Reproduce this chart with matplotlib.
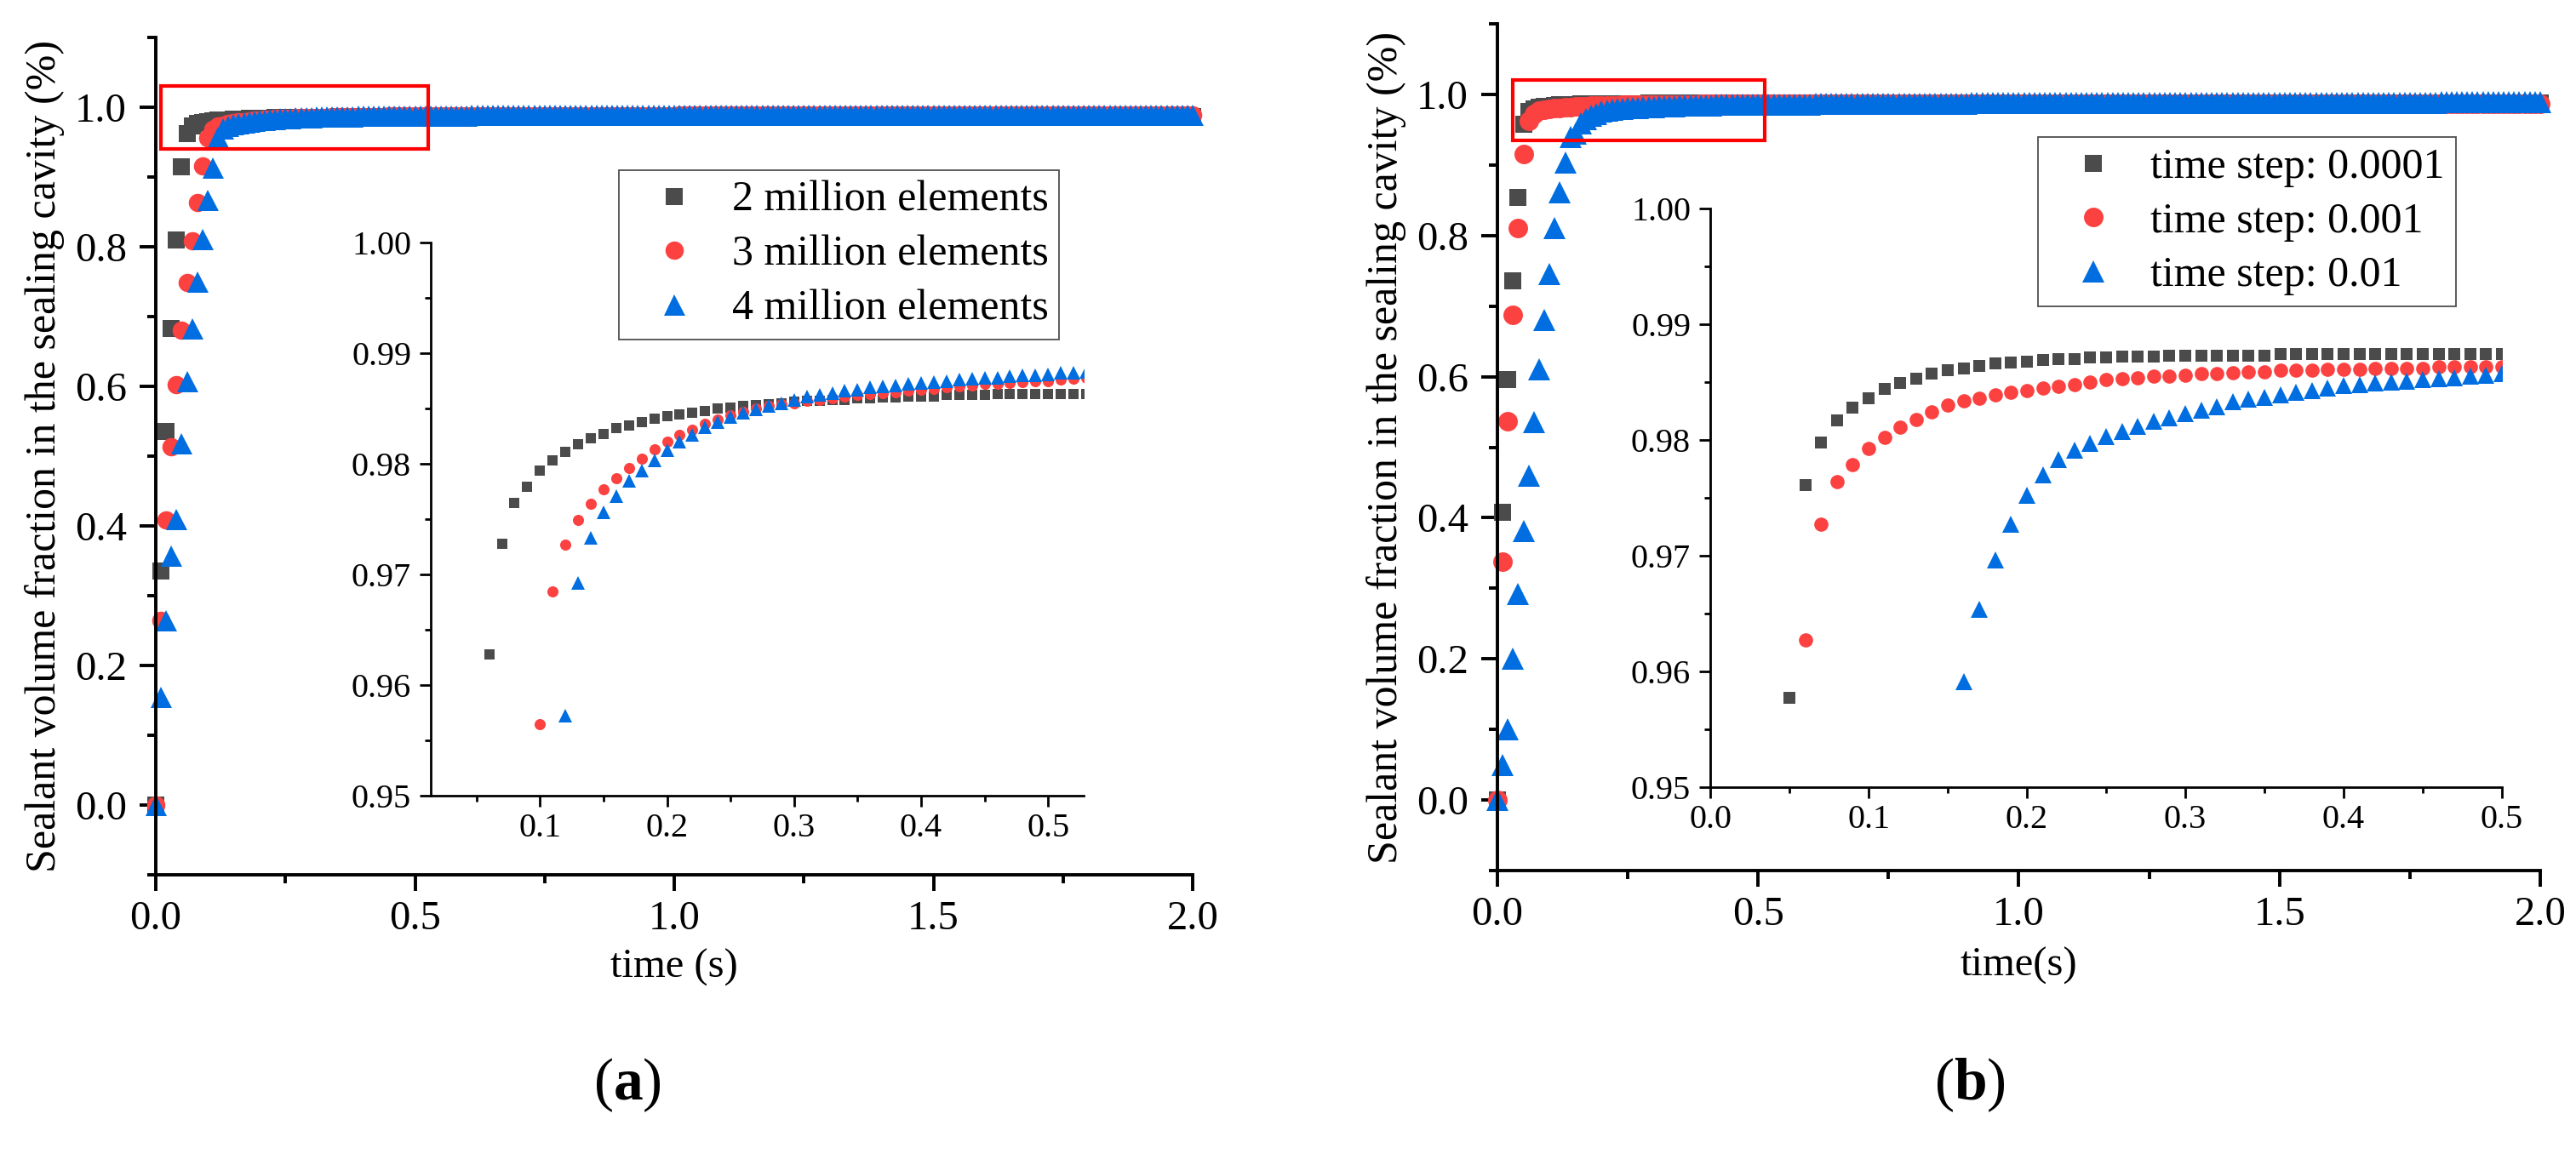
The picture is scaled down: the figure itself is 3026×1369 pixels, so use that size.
import numpy as np
import matplotlib
matplotlib.use("Agg")
import matplotlib.pyplot as plt
from matplotlib.lines import Line2D
from matplotlib.patches import Rectangle
from matplotlib.ticker import FormatStrFormatter

plt.rcParams['font.family'] = ['Liberation Serif', 'DejaVu Serif']
plt.rcParams['mathtext.fontset'] = 'custom'
plt.rcParams['mathtext.rm'] = 'Liberation Serif'
plt.rcParams['mathtext.bf'] = 'Liberation Serif:bold'

GRAY = '#4b4b4b'
RED = '#fc4141'
BLUE = '#006ee0'

# time grid shared by every series (s)
time = np.round(np.arange(0, 201) * 0.01, 2)

# ---- (a) mesh study ----
labels_a = ['2 million elements', '3 million elements', '4 million elements']
# t = 0.00 .. 0.52
mesh2 = [0.0, 0.335, 0.535, 0.683, 0.810, 0.915,
         0.9628, 0.9728, 0.9765, 0.9779, 0.9794, 0.9803, 0.9811, 0.9818, 0.9823, 0.9827,
         0.9832, 0.9835, 0.9838, 0.9841, 0.9843, 0.9845, 0.9846, 0.9848, 0.9850, 0.9851,
         0.9852, 0.9853, 0.9854, 0.9855, 0.9856, 0.9857, 0.9857, 0.9858, 0.9858, 0.9859,
         0.9859, 0.9860, 0.9860, 0.9861, 0.9861, 0.9861, 0.9862, 0.9862, 0.9862, 0.9862,
         0.9863, 0.9863, 0.9863, 0.9863, 0.9863, 0.9863, 0.9863]
mesh3 = [0.0, 0.265, 0.408, 0.513, 0.602, 0.680, 0.749, 0.809, 0.864, 0.916,
         0.9565, 0.9685, 0.9727, 0.9749, 0.9764, 0.9777, 0.9787, 0.9796, 0.9805, 0.9813,
         0.9820, 0.9826, 0.9831, 0.9836, 0.9840, 0.9844, 0.9847, 0.9850, 0.9852, 0.9854,
         0.9855, 0.9857, 0.9858, 0.9859, 0.9861, 0.9862, 0.9863, 0.9864, 0.9865, 0.9866,
         0.9867, 0.9868, 0.9869, 0.9870, 0.9871, 0.9872, 0.9872, 0.9873, 0.9874, 0.9875,
         0.9875, 0.9876, 0.9877]
mesh4 = [0.0, 0.155, 0.265, 0.357, 0.410, 0.518, 0.607, 0.683, 0.750, 0.811, 0.867, 0.914,
         0.9572, 0.9692, 0.9733, 0.9756, 0.9771, 0.9785, 0.9794, 0.9803, 0.9812, 0.9820,
         0.9826, 0.9833, 0.9838, 0.9842, 0.9846, 0.9849, 0.9852, 0.9855, 0.9858, 0.9861,
         0.9862, 0.9864, 0.9866, 0.9867, 0.9869, 0.9870, 0.9871, 0.9872, 0.9873, 0.9874,
         0.9875, 0.9876, 0.9877, 0.9878, 0.9878, 0.9879, 0.9880, 0.9880, 0.9881, 0.9882,
         0.9882]
# plateau t = 0.53 .. 2.00, one value per 0.1 s block
tail_counts_a = [8] + [10] * 14
mesh2_tail = [0.9863, 0.9864, 0.9864, 0.9864, 0.9865, 0.9865, 0.9865, 0.9865,
              0.9865, 0.9866, 0.9866, 0.9866, 0.9866, 0.9866, 0.9866]
mesh3_tail = [0.9878, 0.9880, 0.9882, 0.9883, 0.9884, 0.9885, 0.9885, 0.9886,
              0.9886, 0.9886, 0.9887, 0.9887, 0.9887, 0.9887, 0.9887]
mesh4_tail = [0.9883, 0.9885, 0.9887, 0.9888, 0.9889, 0.9890, 0.9890, 0.9891,
              0.9891, 0.9891, 0.9892, 0.9892, 0.9892, 0.9892, 0.9892]

# ---- (b) time step study ----
labels_b = ['time step: 0.0001', 'time step: 0.001', 'time step: 0.01']
# t = 0.00 .. 0.50
step4 = [0.0, 0.408, 0.596, 0.736, 0.854,
         0.9577, 0.9761, 0.9798, 0.9817, 0.9828, 0.9836, 0.9844, 0.9849, 0.9853, 0.9857,
         0.9860, 0.9862, 0.9864, 0.9866, 0.9867, 0.9868, 0.9869, 0.9870, 0.9870, 0.9871,
         0.9871, 0.9872, 0.9872, 0.9872, 0.9873, 0.9873, 0.9873, 0.9873, 0.9873, 0.9873,
         0.9873, 0.9874, 0.9874, 0.9874, 0.9874, 0.9874, 0.9874, 0.9874, 0.9874, 0.9874,
         0.9874, 0.9874, 0.9874, 0.9874, 0.9874, 0.9874]
step3 = [0.0, 0.338, 0.537, 0.688, 0.811, 0.915,
         0.9627, 0.9727, 0.9764, 0.9779, 0.9793, 0.9802, 0.9811, 0.9818, 0.9824, 0.9830,
         0.9834, 0.9836, 0.9839, 0.9841, 0.9843, 0.9845, 0.9846, 0.9848, 0.9850, 0.9852,
         0.9853, 0.9854, 0.9855, 0.9855, 0.9856, 0.9857, 0.9857, 0.9858, 0.9859, 0.9859,
         0.9860, 0.9860, 0.9860, 0.9861, 0.9861, 0.9861, 0.9862, 0.9862, 0.9862, 0.9862,
         0.9863, 0.9863, 0.9863, 0.9863, 0.9863]
step2 = [0.0, 0.050, 0.100, 0.200, 0.292, 0.381, 0.459, 0.535, 0.610, 0.680, 0.745,
         0.810, 0.861, 0.904, 0.939, 0.944,
         0.9591, 0.9654, 0.9696, 0.9727, 0.9752, 0.9770, 0.9783, 0.9791, 0.9797, 0.9803,
         0.9807, 0.9812, 0.9816, 0.9819, 0.9823, 0.9826, 0.9829, 0.9833, 0.9835, 0.9837,
         0.9839, 0.9841, 0.9843, 0.9845, 0.9847, 0.9848, 0.9849, 0.9850, 0.9851, 0.9852,
         0.9853, 0.9854, 0.9855, 0.9856, 0.9857]
# plateau t = 0.51 .. 2.00, one value per 0.1 s block
tail_counts_b = [10] * 15
step4_tail = [0.9874, 0.9874, 0.9875, 0.9875, 0.9875, 0.9875, 0.9875, 0.9875,
              0.9875, 0.9875, 0.9875, 0.9875, 0.9875, 0.9875, 0.9875]
step3_tail = [0.9864, 0.9865, 0.9865, 0.9866, 0.9866, 0.9866, 0.9866, 0.9866,
              0.9866, 0.9866, 0.9866, 0.9866, 0.9866, 0.9866, 0.9866]
step2_tail = [0.9860, 0.9865, 0.9869, 0.9872, 0.9875, 0.9877, 0.9879, 0.9880,
              0.9881, 0.9882, 0.9883, 0.9884, 0.9884, 0.9885, 0.9885]


def full(head, tail, counts):
    return np.concatenate([head, np.repeat(tail, counts)])


series_a = [full(mesh2, mesh2_tail, tail_counts_a),
            full(mesh3, mesh3_tail, tail_counts_a),
            full(mesh4, mesh4_tail, tail_counts_a)]
series_b = [full(step4, step4_tail, tail_counts_b),
            full(step3, step3_tail, tail_counts_b),
            full(step2, step2_tail, tail_counts_b)]

colors = [GRAY, RED, BLUE]
markers = ['s', 'o', '^']

W, H = 3026, 1369
fig = plt.figure(figsize=(W / 100, H / 100), dpi=100)


def box(x0, y0, x1, y1):
    return [x0 / W, 1 - y1 / H, (x1 - x0) / W, (y1 - y0) / H]


def style_main(ax):
    for s in ['top', 'right']:
        ax.spines[s].set_visible(False)
    for s in ['left', 'bottom']:
        ax.spines[s].set_linewidth(2.8)
    ax.set_xlim(0, 2.0)
    ax.set_ylim(-0.1, 1.1)
    ax.set_xticks([0, 0.5, 1.0, 1.5, 2.0])
    ax.set_xticks([0.25, 0.75, 1.25, 1.75], minor=True)
    ax.set_yticks([0, 0.2, 0.4, 0.6, 0.8, 1.0])
    ax.set_yticks([-0.1, 0.1, 0.3, 0.5, 0.7, 0.9, 1.1], minor=True)
    ax.xaxis.set_major_formatter(FormatStrFormatter('%.1f'))
    ax.yaxis.set_major_formatter(FormatStrFormatter('%.1f'))
    ax.tick_params(which='major', direction='out', length=13.5, width=2.8, labelsize=35)
    ax.tick_params(which='minor', direction='out', length=7, width=2.8)
    ax.tick_params(axis='y', which='major', pad=11)
    ax.tick_params(axis='x', which='major', pad=8)


def style_inset(ax, xlim, xticks, xminor):
    ax.patch.set_alpha(0)
    for s in ['top', 'right']:
        ax.spines[s].set_visible(False)
    for s in ['left', 'bottom']:
        ax.spines[s].set_linewidth(2.0)
    ax.set_xlim(*xlim)
    ax.set_ylim(0.95, 1.0)
    ax.set_xticks(xticks)
    ax.set_xticks(xminor, minor=True)
    ax.set_yticks([0.95, 0.96, 0.97, 0.98, 0.99, 1.00])
    ax.set_yticks([0.955, 0.965, 0.975, 0.985, 0.995], minor=True)
    ax.xaxis.set_major_formatter(FormatStrFormatter('%.1f'))
    ax.yaxis.set_major_formatter(FormatStrFormatter('%.2f'))
    ax.tick_params(which='major', direction='out', length=9.5, width=2.0, labelsize=29)
    ax.tick_params(which='minor', direction='out', length=5, width=2.0)
    ax.tick_params(axis='y', which='major', pad=7)
    ax.tick_params(axis='x', which='major', pad=5)


def panel(main_box, inset_box, inset_xlim, inset_xticks, inset_xminor, series,
          ms_main, ms_inset, rect, xlabel, ylab_x, xlab_y):
    ax = fig.add_axes(main_box)
    style_main(ax)
    for y, c, m, ms in zip(series, colors, markers, ms_main):
        ax.plot(time, y, linestyle='none', marker=m, color=c, ms=ms,
                markeredgewidth=0, clip_on=False)
    ax.add_patch(Rectangle(rect[0], rect[1], rect[2], fill=False,
                           edgecolor='#ff0000', linewidth=3.0, zorder=5))
    ax.set_xlabel(xlabel, fontsize=35)
    ax.set_ylabel('Sealant volume fraction in the sealing cavity (%)', fontsize=36)
    ax.yaxis.set_label_coords(ylab_x, 0.5)
    ax.xaxis.set_label_coords(0.5, xlab_y)

    ins = fig.add_axes(inset_box)
    style_inset(ins, inset_xlim, inset_xticks, inset_xminor)
    for y, c, m, ms in zip(series, colors, markers, ms_inset):
        ins.plot(time, y, linestyle='none', marker=m, color=c, ms=ms,
                 markeredgewidth=0)
    return ax, ins


axA, insA = panel(box(183, 44, 1401, 1028), box(506, 285, 1273, 935),
                  (0.014, 0.528), [0.1, 0.2, 0.3, 0.4, 0.5],
                  [0.05, 0.15, 0.25, 0.35, 0.45], series_a,
                  [14.5, 15.5, 18.0], [8.6, 9.4, 11.5],
                  ((0.01, 0.94), 0.516, 0.09), 'time (s)', -0.088, -0.088)

axB, insB = panel(box(1759, 28, 2984, 1023), box(2009, 245, 2939, 925),
                  (0.0, 0.5), [0.0, 0.1, 0.2, 0.3, 0.4, 0.5],
                  [0.05, 0.15, 0.25, 0.35, 0.45], series_b,
                  [14.8, 16.5, 19.4], [10.0, 12.0, 14.0],
                  ((0.029, 0.935), 0.484, 0.0855), 'time(s)', -0.087, -0.09)


def add_legend(labels, ms, x0, y0):
    handles = [Line2D([], [], linestyle='none', marker=m, color=c, ms=s, markeredgewidth=0)
               for m, c, s in zip(markers, colors, ms)]
    leg = fig.legend(handles, labels, loc='upper left', bbox_to_anchor=(x0 / W, 1 - y0 / H),
                     bbox_transform=fig.transFigure, fontsize=36, frameon=True,
                     fancybox=False, borderpad=0.25, borderaxespad=0, handlelength=2.1,
                     handletextpad=0.3, labelspacing=0.34, numpoints=1)
    leg.get_frame().set_edgecolor('#222222')
    leg.get_frame().set_linewidth(1.3)
    leg.set_zorder(10)


add_legend(labels_a, [14.5, 15.5, 18.0], 727, 200)
add_legend(labels_b, [14.8, 16.5, 19.4], 2394, 161)

fig.text(737 / W, 1 - 1275 / H, r'($\mathbf{a}$)', fontsize=50, ha='center', va='center')
fig.text(2314 / W, 1 - 1275 / H, r'($\mathbf{b}$)', fontsize=50, ha='center', va='center')

fig.savefig('out.png', dpi=100)
